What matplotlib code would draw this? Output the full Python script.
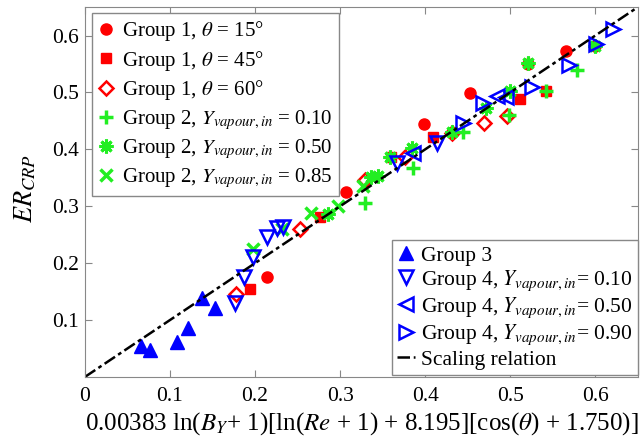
import matplotlib
matplotlib.use("Agg")
import matplotlib.pyplot as plt
import numpy as np

plt.rcParams['font.family'] = ['Liberation Serif', 'DejaVu Serif']
plt.rcParams['mathtext.fontset'] = 'stix'
plt.rcParams['font.size'] = 14

# Group 1 (red), three contact angles
g1_15_x = [0.214, 0.307, 0.399, 0.453, 0.521, 0.566, 0.600]
g1_15_y = [0.175, 0.325, 0.444, 0.499, 0.550, 0.572, 0.582]
g1_45_x = [0.194, 0.276, 0.360, 0.409, 0.512, 0.542]
g1_45_y = [0.154, 0.281, 0.386, 0.421, 0.489, 0.503]
g1_60_x = [0.178, 0.253, 0.329, 0.376, 0.432, 0.469, 0.496]
g1_60_y = [0.146, 0.260, 0.346, 0.386, 0.428, 0.446, 0.458]

# Group 2 (green), three inlet vapour fractions
g2_10_x = [0.329, 0.386, 0.445, 0.498, 0.542, 0.579]
g2_10_y = [0.306, 0.367, 0.430, 0.460, 0.503, 0.539]
g2_50_x = [0.286, 0.336, 0.344, 0.359, 0.385, 0.432, 0.472, 0.500, 0.521, 0.600]
g2_50_y = [0.286, 0.352, 0.354, 0.386, 0.402, 0.430, 0.472, 0.503, 0.551, 0.582]
g2_85_x = [0.198, 0.232, 0.266, 0.298, 0.327]
g2_85_y = [0.225, 0.260, 0.289, 0.300, 0.335]

# Group 3 (blue filled)
g3_x = [0.066, 0.076, 0.108, 0.121, 0.138, 0.153]
g3_y = [0.054, 0.048, 0.061, 0.086, 0.138, 0.121]

# Group 4 (blue open), three inlet vapour fractions
g4_10_x = [0.176, 0.187, 0.198, 0.214, 0.226, 0.233, 0.367, 0.414]
g4_10_y = [0.130, 0.175, 0.211, 0.246, 0.262, 0.263, 0.376, 0.412]
g4_50_x = [0.386, 0.485, 0.495]
g4_50_y = [0.393, 0.493, 0.492]
g4_90_x = [0.445, 0.468, 0.526, 0.569, 0.601, 0.621]
g4_90_y = [0.446, 0.482, 0.509, 0.549, 0.586, 0.611]

fit_x = [0.0, 0.65]

red = '#ff0000'
green = '#22ee22'
blue = '#0000ff'

fig = plt.figure(figsize=(6.43, 4.44), dpi=100)
ax = fig.add_axes([0.132, 0.151, 0.860, 0.833])

h1 = ax.plot(g1_15_x, g1_15_y, 'o', color=red, ms=8, ls='none',
             label=r'Group 1, $\theta$ = 15°')[0]
h2 = ax.plot(g1_45_x, g1_45_y, 's', color=red, ms=7, ls='none',
             label=r'Group 1, $\theta$ = 45°')[0]
h3 = ax.plot(g1_60_x, g1_60_y, 'D', mfc='none', mec=red, mew=1.8, ms=7, ls='none',
             label=r'Group 1, $\theta$ = 60°')[0]
h4 = ax.plot(g2_10_x, g2_10_y, '+', color=green, mew=2.5, ms=10, ls='none',
             label=r'Group 2, $Y_{vapour,in}$ = 0.10')[0]
h5 = ax.plot(g2_50_x, g2_50_y, marker=(8, 2, 0), color=green, mew=2.2, ms=10, ls='none',
             label=r'Group 2, $Y_{vapour,in}$ = 0.50')[0]
h6 = ax.plot(g2_85_x, g2_85_y, 'x', color=green, mew=2.5, ms=8, ls='none',
             label=r'Group 2, $Y_{vapour,in}$ = 0.85')[0]
h7 = ax.plot(g3_x, g3_y, '^', color=blue, ms=10, ls='none', label='Group 3')[0]
h8 = ax.plot(g4_10_x, g4_10_y, 'v', mfc='none', mec=blue, mew=1.8, ms=10, ls='none',
             label=r'Group 4, $Y_{vapour,in}$= 0.10')[0]
h9 = ax.plot(g4_50_x, g4_50_y, '<', mfc='none', mec=blue, mew=1.8, ms=10, ls='none',
             label=r'Group 4, $Y_{vapour,in}$= 0.50')[0]
h10 = ax.plot(g4_90_x, g4_90_y, '>', mfc='none', mec=blue, mew=1.8, ms=10, ls='none',
              label=r'Group 4, $Y_{vapour,in}$= 0.90')[0]
h11 = ax.plot(fit_x, fit_x, color='black', lw=1.8, ls=(0, (5, 1.5, 1.5, 1.5)),
              label='Scaling relation')[0]

ax.set_xlim(0, 0.65)
ax.set_ylim(0, 0.65)
ax.set_xticks([0, 0.1, 0.2, 0.3, 0.4, 0.5, 0.6])
ax.set_xticklabels(['0', '0.1', '0.2', '0.3', '0.4', '0.5', '0.6'])
ax.set_yticks([0.1, 0.2, 0.3, 0.4, 0.5, 0.6])
ax.set_yticklabels(['0.1', '0.2', '0.3', '0.4', '0.5', '0.6'])
ax.tick_params(direction='in', top=True, right=True, length=5, color='#888888',
               labelsize=15.5)
ax.tick_params(axis='x', pad=7)
ax.tick_params(axis='y', pad=4)
for sp in ax.spines.values():
    sp.set_color('#888888')

ax.set_xlabel(r'0.00383 ln($B_Y$+ 1)[ln($Re$ + 1) + 8.195][cos($\theta$) + 1.750)]',
              fontsize=18, labelpad=3)
ax.set_ylabel(r'$ER_{CRP}$', fontsize=19)
ax.yaxis.set_label_coords(-0.085, 0.51)

leg1 = ax.legend(handles=[h1, h2, h3, h4, h5, h6], loc='upper left',
                 bbox_to_anchor=(0.005, 0.995), fancybox=False, edgecolor='#888888',
                 framealpha=1, handlelength=0.8, handletextpad=0.35,
                 labelspacing=0.26, borderpad=0.3, borderaxespad=0.2, fontsize=15)
leg1.get_frame().set_linewidth(1.0)
ax.add_artist(leg1)
leg2 = ax.legend(handles=[h7, h8, h9, h10, h11], loc='lower right',
                 bbox_to_anchor=(1.0, 0.005), fancybox=False, edgecolor='#888888',
                 framealpha=1, handlelength=0.8, handletextpad=0.3,
                 labelspacing=0.12, borderpad=0.25, borderaxespad=0.0, fontsize=15.5)
leg2.get_frame().set_linewidth(1.0)

fig.savefig('out.png', dpi=100)
